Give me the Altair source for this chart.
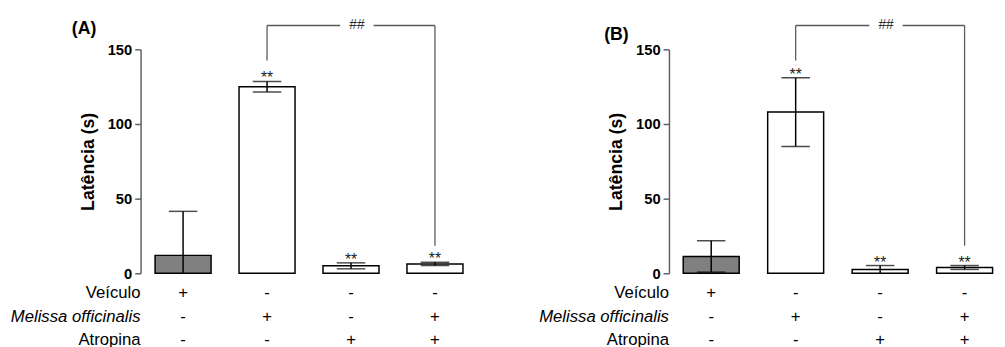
import altair as alt
import pandas as pd

# ---- data ----
groups = ["G1", "G2", "G3", "G4"]
fills = ["#808080", "#ffffff", "#ffffff", "#ffffff"]
a_mean = [12.0, 125.0, 5.0, 6.3]
a_sem = [29.5, 3.5, 2.0, 1.1]
b_mean = [11.3, 108.0, 2.6, 3.9]
b_sem = [10.5, 23.0, 2.6, 1.3]
stars = ["", "**", "**", "**"]
rows = ["Veículo", "Melissa officinalis", "Atropina"]
sign_veiculo = ["+", "-", "-", "-"]
sign_melissa = ["-", "+", "-", "+"]
sign_atropina = ["-", "-", "+", "+"]
y_ticks = [0, 50, 100, 150]
bracket_top = 166.0
bracket_left_end = 142.5
bracket_right_end = 18.5
hash_label = "##"
panel_labels = ["(A)", "(B)"]
y_title = "Latência (s)"

FONT = "Liberation Sans"
H = 228
ROW_RANGE = [248, 296.5]
GRAY = "#5a5a5a"


def panel(mean, sem, label, width, pi, po, align, label_x, label_y):
    df = pd.DataFrame({"g": groups, "mean": mean, "sem": sem,
                       "fill": fills, "star": stars})
    df["hi"] = df["mean"] + df["sem"]
    df["lo"] = (df["mean"] - df["sem"]).clip(lower=0)

    xs = alt.Scale(domain=groups, paddingInner=pi, paddingOuter=po,
                   align=align, round=False)
    X = alt.X("g:N", scale=xs,
              axis=alt.Axis(labels=False, ticks=False, title=None,
                            domainColor="#707070", domainWidth=1.5))
    Xn = alt.X("g:N", scale=xs, axis=None)
    ys = alt.Scale(domain=[0, 150], nice=False, zero=True)

    base = alt.Chart(df)
    bars = base.mark_bar(stroke="black", strokeWidth=1.5).encode(
        x=X,
        y=alt.Y("mean:Q", scale=ys,
                axis=alt.Axis(values=y_ticks, tickSize=6, labelFontSize=15,
                              labelFontWeight="bold", labelColor="black",
                              labelPadding=3, domainColor="#606060",
                              tickColor="#606060", domainWidth=1.5,
                              tickWidth=1.5, grid=False,
                              titleFontSize=18, titleFontWeight="bold",
                              titleColor="black", titlePadding=10,
                              labelFont=FONT, titleFont=FONT),
                title=y_title),
        fill=alt.Fill("fill:N", scale=None),
    )
    err = base.mark_rule(color="black", strokeWidth=1.5).encode(
        x=Xn, y=alt.Y("lo:Q", scale=ys, axis=None), y2="hi:Q")
    cap_hi = base.mark_tick(orient="horizontal", size=29, thickness=1.5,
                            color="black").encode(
        x=Xn, y=alt.Y("hi:Q", scale=ys, axis=None))
    cap_lo = base.transform_filter("datum.lo > 0.5").mark_tick(
        orient="horizontal", size=29, thickness=1.5, color="black").encode(
        x=Xn, y=alt.Y("lo:Q", scale=ys, axis=None))
    star_t = base.transform_filter("datum.star != ''").mark_text(
        fontSize=16, baseline="alphabetic", dy=2, color="#222",
        font=FONT).encode(
        x=Xn, y=alt.Y("hi:Q", scale=ys, axis=None), text="star:N")

    br = pd.DataFrame({"ga": [groups[1]], "gm": [groups[2]],
                       "gb": [groups[3]], "top": [bracket_top],
                       "lend": [bracket_left_end],
                       "rend": [bracket_right_end], "t": [hash_label]})
    bb = alt.Chart(br)
    XA = alt.X("ga:N", scale=xs, axis=None, bandPosition=0.5)
    XM = alt.X("gm:N", scale=xs, axis=None, bandPosition=0.5)
    XB = alt.X("gb:N", scale=xs, axis=None, bandPosition=0.5)
    YT = alt.Y("top:Q", scale=ys, axis=None)
    h_left = bb.mark_rule(color=GRAY, strokeWidth=1.3, x2Offset=-11).encode(
        x=XA, x2=alt.X2("gm:N", bandPosition=0.5), y=YT)
    h_right = bb.mark_rule(color=GRAY, strokeWidth=1.3, xOffset=23).encode(
        x=XM, x2=alt.X2("gb:N", bandPosition=0.5), y=YT)
    v_left = bb.mark_rule(color=GRAY, strokeWidth=1.3).encode(
        x=XA, y=alt.Y("lend:Q", scale=ys, axis=None), y2="top:Q")
    v_right = bb.mark_rule(color=GRAY, strokeWidth=1.3).encode(
        x=XB, y=alt.Y("rend:Q", scale=ys, axis=None), y2="top:Q")
    hash_t = bb.mark_text(fontSize=14, dx=6, baseline="middle", color="#333",
                          font=FONT).encode(x=XM, y=YT, text="t:N")

    tab = pd.DataFrame({
        "g": groups * 3,
        "row": [rows[0]] * 4 + [rows[1]] * 4 + [rows[2]] * 4,
        "sign": sign_veiculo + sign_melissa + sign_atropina,
    })
    RY = alt.Y("row:N", scale=alt.Scale(domain=rows, range=ROW_RANGE,
                                        padding=0), axis=None)
    signs_t = alt.Chart(tab).mark_text(fontSize=17, baseline="middle",
                                       color="black", font=FONT).encode(
        x=Xn, y=RY, text="sign:N")
    rl = pd.DataFrame({"row": rows})
    row_norm = alt.Chart(rl).transform_filter(
        "datum.row != 'Melissa officinalis'").mark_text(
        fontSize=17, align="right", baseline="middle", dx=0, color="black",
        font=FONT).encode(x=alt.value(0), y=RY, text="row:N")
    row_ital = alt.Chart(rl).transform_filter(
        "datum.row == 'Melissa officinalis'").mark_text(
        fontSize=17, align="right", baseline="middle", dx=0, color="black",
        fontStyle="italic", font=FONT).encode(x=alt.value(0), y=RY,
                                              text="row:N")
    lab = alt.Chart(pd.DataFrame({"t": [label]})).mark_text(
        fontSize=18, fontWeight="bold", align="left", baseline="middle",
        color="black", font=FONT).encode(
        x=alt.value(label_x), y=alt.value(label_y), text="t:N")

    return alt.layer(bars, err, cap_hi, cap_lo, star_t, h_left, h_right,
                     v_left, v_right, hash_t, signs_t, row_norm, row_ital,
                     lab).resolve_scale(y="independent").properties(
        width=width, height=H)


pa = panel(a_mean, a_sem, panel_labels[0], 343, 0.333, 0.1725, 0.5, -70, -21)
pb = panel(b_mean, b_sem, panel_labels[1], 334, 0.3372, 0.1105, 0.763, -66, -15)

chart = alt.hconcat(pa, pb, spacing=62).properties(
    padding={"left": 2, "top": 7, "right": 0, "bottom": 0}
).configure(font=FONT).configure_view(stroke=None)

chart.save("out.html", embed_options={"renderer": "svg", "actions": False})
